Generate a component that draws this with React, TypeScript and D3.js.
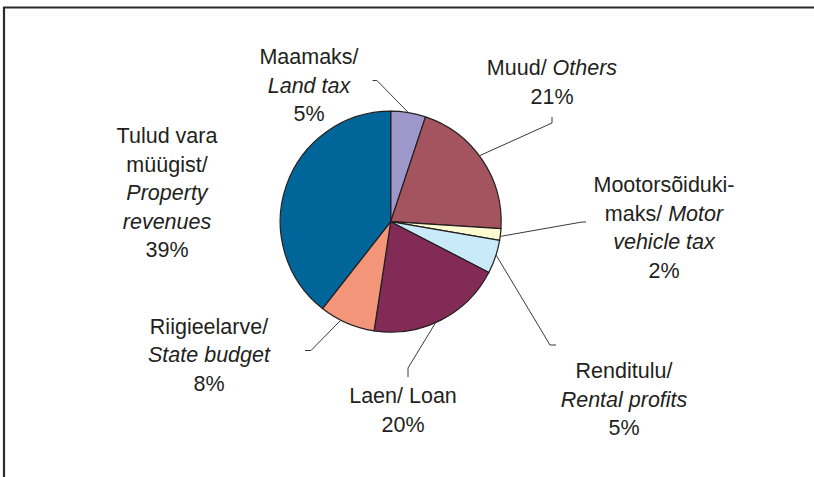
import React from "react";
import * as d3 from "d3";

const categories = ["Maamaks", "Muud", "Mootorsõidukimaks", "Renditulu", "Laen", "Riigieelarve", "Tulud vara müügist"];
const values = [5.1, 20.9, 1.7, 4.9, 19.8, 8.2, 39.4];
const colors = ["#9D97CA", "#A3545F", "#FFFBD0", "#C9EAF8", "#822B56", "#F29579", "#006699"];
// label lines: segments [text, italic]
const labelLines: [string, boolean][][][] = [
  [[["Maamaks/", false]], [["Land tax", true]]],
  [[["Muud/ ", false], ["Others", true]]],
  [[["Mootorsõiduki-", false]], [["maks/ ", false], ["Motor", true]], [["vehicle tax", true]]],
  [[["Renditulu/", false]], [["Rental profits", true]]],
  [[["Laen/ Loan", false]]],
  [[["Riigieelarve/", false]], [["State budget", true]]],
  [[["Tulud vara", false]], [["müügist/", false]], [["Property", true]], [["revenues", true]]],
];

// layout
const W = 814, H = 477;
const cx = 390.7, cy = 221.7, R = 110.5;
const lineH = 28.5;
const labelPos = [
  { x: 309, y: 64 },
  { x: 552, y: 75 },
  { x: 664, y: 192 },
  { x: 624, y: 378 },
  { x: 403, y: 403 },
  { x: 209, y: 333.5 },
  { x: 167, y: 143 },
];
// leader: angle offset (deg), knee, end ; null = no leader
const leaders: ({ off: number; knee: [number, number]; end: [number, number] } | null)[] = [
  { off: 0, knee: [377, 80.5], end: [372.5, 80.5] },
  { off: -2.6, knee: [552, 123], end: [552, 117] },
  { off: 1, knee: [582, 222], end: [586, 222] },
  { off: -1, knee: [550, 345], end: [556, 345] },
  { off: 3, knee: [408, 368], end: [408, 377] },
  { off: 3.5, knee: [311, 350.5], end: [305, 350.5] },
  null,
];

export default function App() {
  const pie = d3.pie<number>().sort(null).value((d) => d);
  const arcs = pie(values);
  const arcGen = d3.arc<d3.PieArcDatum<number>>().innerRadius(0).outerRadius(R);
  const textColor = "#231F20";
  return (
    <svg width={W} height={H} style={{ position: "absolute", left: 0, top: 0, display: "block" }}
      fontFamily="'Liberation Sans', Arial, sans-serif">
      <rect x={0} y={0} width={W} height={H} fill="#fff" />
      <path d={`M4,${H + 5} L4,7.5 L${W + 5},7.5`} fill="none" stroke="#2a2a2a" strokeWidth={2.2} />
      <g transform={`translate(${cx},${cy})`}>
        {arcs.map((a, i) => (
          <path key={i} d={arcGen(a) || ""} fill={colors[i]} stroke="#231F20" strokeWidth={1.2} strokeLinejoin="round" />
        ))}
      </g>
      {arcs.map((a, i) => {
        const l = leaders[i];
        if (!l) return null;
        const ang = (a.startAngle + a.endAngle) / 2 + (l.off * Math.PI) / 180;
        const sx = cx + R * Math.sin(ang);
        const sy = cy - R * Math.cos(ang);
        const line = d3.line()([[sx, sy], l.knee, l.end]);
        return <path key={"l" + i} d={line || ""} fill="none" stroke="#3a3a3a" strokeWidth={1} />;
      })}
      {categories.map((c, i) => {
        const lines = labelLines[i];
        const pct = Math.round(values[i]) + "%";
        const p = labelPos[i];
        return (
          <text key={"t" + i} x={p.x} y={p.y} textAnchor="middle" fontSize={21.5} fill={textColor}>
            {lines.map((segs, j) => (
              <tspan key={j} x={p.x} y={p.y + j * lineH}>
                {segs.map(([s, it], k) => (
                  <tspan key={k} fontStyle={it ? "italic" : "normal"} style={{ whiteSpace: "pre" }}>{s}</tspan>
                ))}
              </tspan>
            ))}
            <tspan x={p.x} y={p.y + lines.length * lineH}>{pct}</tspan>
          </text>
        );
      })}
    </svg>
  );
}
